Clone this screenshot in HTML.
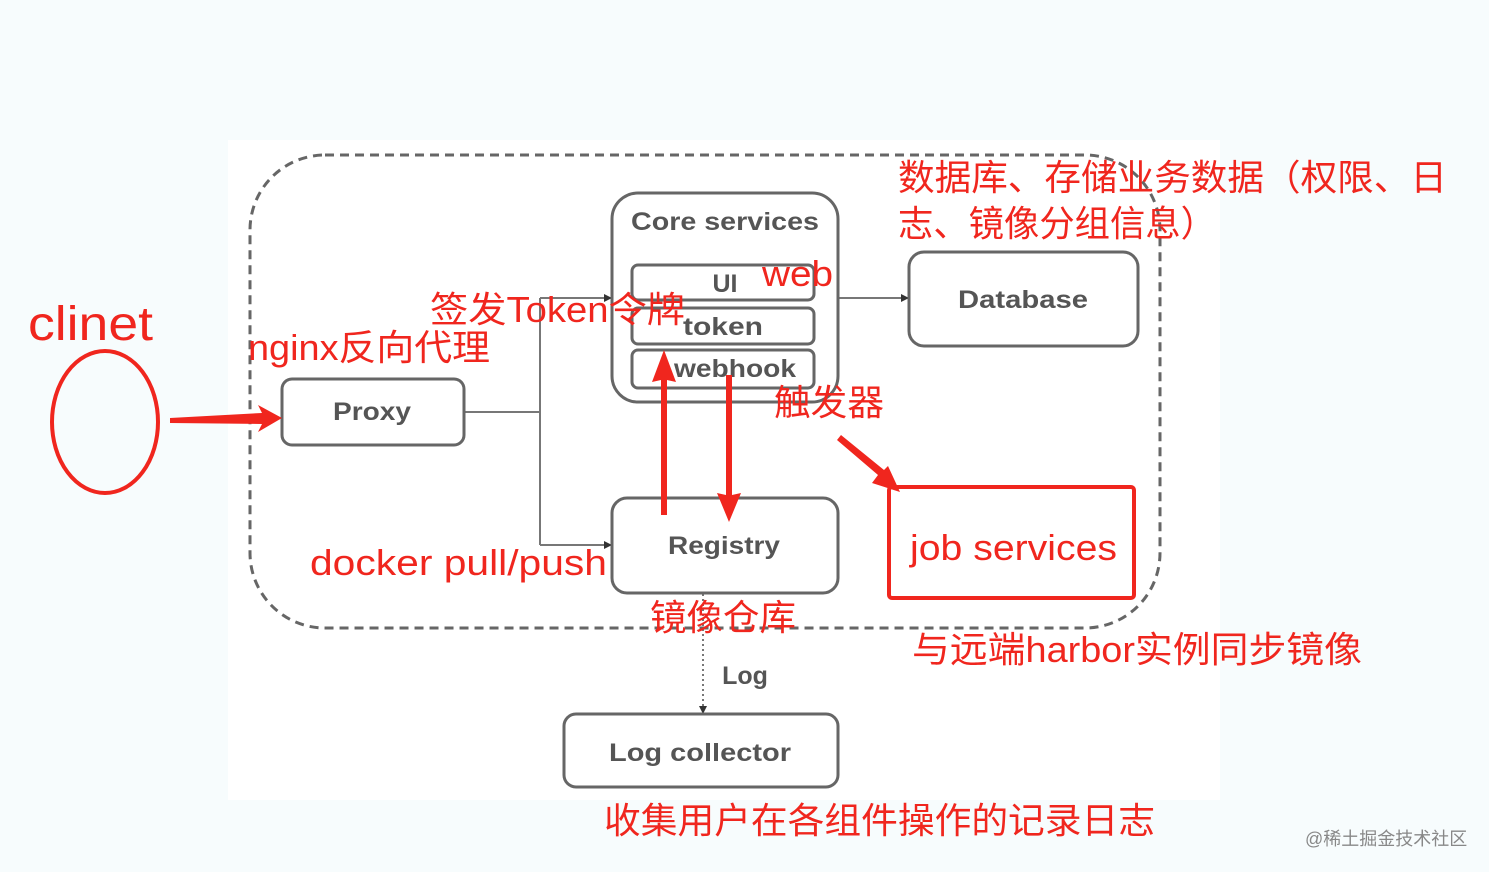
<!DOCTYPE html>
<html><head><meta charset="utf-8"><style>
html,body{margin:0;padding:0;background:#f7fcfd;}
svg{display:block;}
.g{font-family:"Liberation Sans","Noto Sans CJK SC",sans-serif;fill:#555;font-weight:bold;}
.r{font-family:"Liberation Sans","Noto Sans CJK SC",sans-serif;fill:#f0261e;}
</style></head><body>
<svg width="1489" height="872" viewBox="0 0 1489 872" xmlns="http://www.w3.org/2000/svg">
<defs>
<marker id="ah" markerWidth="8" markerHeight="8" refX="7" refY="4" orient="auto" markerUnits="userSpaceOnUse"><path d="M0,0 L8,4 L0,8z" fill="#333"/></marker>
</defs>
<rect x="0" y="0" width="1489" height="872" fill="#f7fcfd"/>
<rect x="228" y="140" width="992" height="660" fill="#fff"/>
<rect x="250" y="155" width="910" height="473" rx="75" fill="none" stroke="#666" stroke-width="3" stroke-dasharray="9,6"/>

<g stroke="#777" stroke-width="2" fill="none">
<line x1="464" y1="412" x2="540" y2="412"/>
<line x1="540" y1="298" x2="540" y2="545"/>
<line x1="540" y1="298" x2="611" y2="298" marker-end="url(#ah)"/>
<line x1="540" y1="545" x2="611" y2="545" marker-end="url(#ah)"/>
<line x1="838" y1="298" x2="908" y2="298" marker-end="url(#ah)"/>
<line x1="727" y1="403" x2="727" y2="498"/>
<line x1="703" y1="594" x2="703" y2="713" stroke-dasharray="2,3" marker-end="url(#ah)"/>
</g>

<g fill="#fff" stroke="#666" stroke-width="3">
<rect x="612" y="193" width="226" height="209" rx="26"/>
<rect x="632" y="265" width="182" height="35" rx="6"/>
<rect x="632" y="308" width="182" height="36" rx="6"/>
<rect x="632" y="350" width="182" height="38" rx="6"/>
<rect x="909" y="252" width="229" height="94" rx="15"/>
<rect x="282" y="379" width="182" height="66" rx="10"/>
<rect x="612" y="498" width="226" height="95" rx="15"/>
<rect x="564" y="714" width="274" height="73" rx="12"/>
</g>
<g class="g" text-anchor="middle" font-size="25">
<text x="725" y="230" textLength="188" lengthAdjust="spacingAndGlyphs">Core services</text>
<text x="725" y="292">UI</text>
<text x="723" y="335" textLength="80" lengthAdjust="spacingAndGlyphs">token</text>
<text x="735" y="377" textLength="122" lengthAdjust="spacingAndGlyphs">webhook</text>
<text x="1023" y="308" textLength="130" lengthAdjust="spacingAndGlyphs">Database</text>
<text x="372" y="420" textLength="78" lengthAdjust="spacingAndGlyphs">Proxy</text>
<text x="724" y="554" textLength="112" lengthAdjust="spacingAndGlyphs">Registry</text>
<text x="700" y="761" textLength="182" lengthAdjust="spacingAndGlyphs">Log collector</text>
<text x="745" y="684">Log</text>
</g>

<ellipse cx="105" cy="422" rx="53" ry="71" fill="none" stroke="#f0261e" stroke-width="4"/>
<path d="M170,418 L262,413 L258,405 L282,418 L258,432 L262,424 L170,423z" fill="#f0261e"/>
<path d="M661,515 L661,380 L652,382 L664,350 L676,382 L667,380 L667,515z" fill="#f0261e"/>
<path d="M726,375 L726,495 L717,493 L729,522 L741,493 L732,495 L732,375z" fill="#f0261e"/>
<path d="M837,440 L878,475 L872,483 L900,492 L888,466 L884,470 L841,435z" fill="#f0261e"/>
<rect x="889" y="487" width="245" height="111" rx="3" fill="none" stroke="#f0261e" stroke-width="4"/>

<g class="r" font-size="36">
<text x="28" y="340" font-size="48" textLength="125" lengthAdjust="spacingAndGlyphs">clinet</text>
<text x="248" y="360" textLength="242" lengthAdjust="spacingAndGlyphs">nginx反向代理</text>
<text x="430" y="322" textLength="255" lengthAdjust="spacingAndGlyphs">签发Token令牌</text>
<text x="762" y="286" textLength="71" lengthAdjust="spacingAndGlyphs">web</text>
<text x="774" y="415" textLength="110" lengthAdjust="spacingAndGlyphs">触发器</text>
<text x="310" y="575" textLength="297" lengthAdjust="spacingAndGlyphs">docker pull/push</text>
<text x="650" y="630" textLength="146" lengthAdjust="spacingAndGlyphs">镜像仓库</text>
<text x="898" y="190" textLength="549" lengthAdjust="spacingAndGlyphs">数据库、存储业务数据（权限、日</text>
<text x="898" y="236" textLength="318" lengthAdjust="spacingAndGlyphs">志、镜像分组信息）</text>
<text x="910" y="560" textLength="207" lengthAdjust="spacingAndGlyphs">job services</text>
<text x="912" y="662" textLength="450" lengthAdjust="spacingAndGlyphs">与远端harbor实例同步镜像</text>
<text x="604" y="833" textLength="551" lengthAdjust="spacingAndGlyphs">收集用户在各组件操作的记录日志</text>
</g>
<text x="1305" y="845" font-family="Liberation Sans,'Noto Sans CJK SC',sans-serif" font-size="18" fill="#888">@稀土掘金技术社区</text>
</svg>
</body></html>
